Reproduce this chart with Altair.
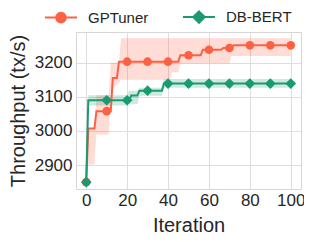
import altair as alt
import pandas as pd

series_names = ["GPTuner", "DB-BERT"]
colors = ["#fd6143", "#1b9a72"]

x_ticks = [0, 20, 40, 60, 80, 100]
y_ticks = [2900, 3000, 3100, 3200]

marker_iters = [0, 10, 20, 30, 40, 50, 60, 70, 80, 90, 100]
gp_marker = [2850, 3058, 3203, 3203, 3203, 3222, 3238, 3243, 3251, 3251, 3251]
db_marker = [2850, 3090, 3090, 3118, 3139, 3139, 3139, 3139, 3139, 3139, 3139]

gp_line_iters = [0, 1, 4, 5, 12, 13, 15, 16, 45, 46, 56, 57, 66, 67, 71, 72, 100]
gp_line_vals = [2850, 3007, 3007, 3058, 3058, 3155, 3155, 3203, 3203, 3222, 3222,
                3238, 3238, 3243, 3243, 3251, 3251]

db_line_iters = [0, 1, 21, 22, 25, 26, 37, 38, 100]
db_line_vals = [2850, 3090, 3090, 3104, 3104, 3118, 3118, 3139, 3139]

gp_band_iters = [0, 1, 4, 5, 11, 12, 16, 17, 41, 42, 45, 46, 70, 71, 100]
gp_band_lo = [2850, 2902, 2902, 2990, 2990, 3120, 3140, 3150, 3150, 3172, 3172,
              3198, 3198, 3220, 3220]
gp_band_hi = [2850, 3009, 3009, 3105, 3105, 3200, 3200, 3272, 3272, 3272, 3272,
              3272, 3272, 3272, 3272]

db_band_iters = [0, 1, 20, 21, 25, 26, 37, 38, 100]
db_band_lo = [2850, 3075, 3075, 3078, 3078, 3103, 3103, 3127, 3127]
db_band_hi = [2850, 3105, 3105, 3118, 3118, 3127, 3127, 3152, 3152]

legend_paths = [
    "M-1,0L1,0M0.3,0A0.3,0.3,0,1,1,-0.3,0A0.3,0.3,0,1,1,0.3,0Z",
    "M-1,0L1,0M0,-0.36L0.36,0L0,0.36L-0.36,0Z",
]

gp_line = pd.DataFrame({"iteration": gp_line_iters, "throughput": gp_line_vals})
db_line = pd.DataFrame({"iteration": db_line_iters, "throughput": db_line_vals})
gp_band = pd.DataFrame({"iteration": gp_band_iters, "lo": gp_band_lo, "hi": gp_band_hi})
db_band = pd.DataFrame({"iteration": db_band_iters, "lo": db_band_lo, "hi": db_band_hi})
gp_mk = pd.DataFrame({"iteration": marker_iters, "throughput": gp_marker, "series": "GPTuner"})
db_mk = pd.DataFrame({"iteration": marker_iters, "throughput": db_marker, "series": "DB-BERT"})
both_mk = pd.concat([gp_mk, db_mk], ignore_index=True)

xscale = alt.Scale(domain=[-5, 105], nice=False, zero=False)
yscale = alt.Scale(domain=[2830, 3290], nice=False, zero=False)
xaxis = alt.Axis(values=x_ticks, title="Iteration")
yaxis = alt.Axis(values=y_ticks, title="Throughput (tx/s)", format="d")
X = alt.X("iteration:Q", scale=xscale, axis=xaxis)
Y = alt.Y("throughput:Q", scale=yscale, axis=yaxis)
YB = alt.Y("lo:Q", scale=yscale, axis=yaxis)


def band_layer(df, col, op):
    return alt.Chart(df).mark_area(opacity=op, color=col).encode(x=X, y=YB, y2="hi:Q")


def line_layer(df, col):
    return alt.Chart(df).mark_line(strokeWidth=2, color=col).encode(x=X, y=Y)


gp_points = alt.Chart(gp_mk).mark_point(shape="circle", filled=True, size=75, opacity=1,
                                         color=colors[0]).encode(x=X, y=Y)
db_points = alt.Chart(db_mk).mark_point(shape="diamond", filled=True, size=115, opacity=1,
                                         color=colors[1]).encode(x=X, y=Y)

leg = alt.Legend(orient="none", direction="horizontal", legendX=-32, legendY=-32,
                 title=None, symbolSize=1024, symbolStrokeWidth=2, labelFontSize=15,
                 labelOffset=10, columnPadding=30, padding=0, symbolOpacity=1,
                 labelColor="#262626", labelFont="Liberation Sans")
legend_layer = alt.Chart(both_mk).mark_point(
    filled=True, opacity=0, strokeWidth=2, size=1024).encode(
    x=X, y=Y,
    fill=alt.Fill("series:N", scale=alt.Scale(domain=series_names, range=colors), legend=leg),
    stroke=alt.Stroke("series:N", scale=alt.Scale(domain=series_names, range=colors), legend=leg),
    shape=alt.Shape("series:N", scale=alt.Scale(domain=series_names, range=legend_paths), legend=leg),
)

chart = alt.layer(
    band_layer(gp_band, colors[0], 0.22), band_layer(db_band, colors[1], 0.22),
    line_layer(gp_line, colors[0]), line_layer(db_line, colors[1]),
    gp_points, db_points, legend_layer,
).properties(
    width=225, height=157,
    autosize=alt.AutoSizeParams(type="none"),
    padding={"left": 68, "top": 24, "right": 3, "bottom": 45},
).configure_view(
    stroke="#d6d6d6", strokeWidth=1,
).configure_axis(
    grid=True, gridColor="#dedede", gridWidth=1, domain=False, ticks=False,
    labelFont="Liberation Sans", titleFont="Liberation Sans",
    labelFontSize=17, titleFontSize=20, titleFontWeight="normal",
    labelColor="#262626", titleColor="#262626",
).configure_axisX(labelPadding=3, titlePadding=7).configure_axisY(labelPadding=4, titlePadding=6)

chart.save("out.html", embed_options={"renderer": "svg", "actions": False})
